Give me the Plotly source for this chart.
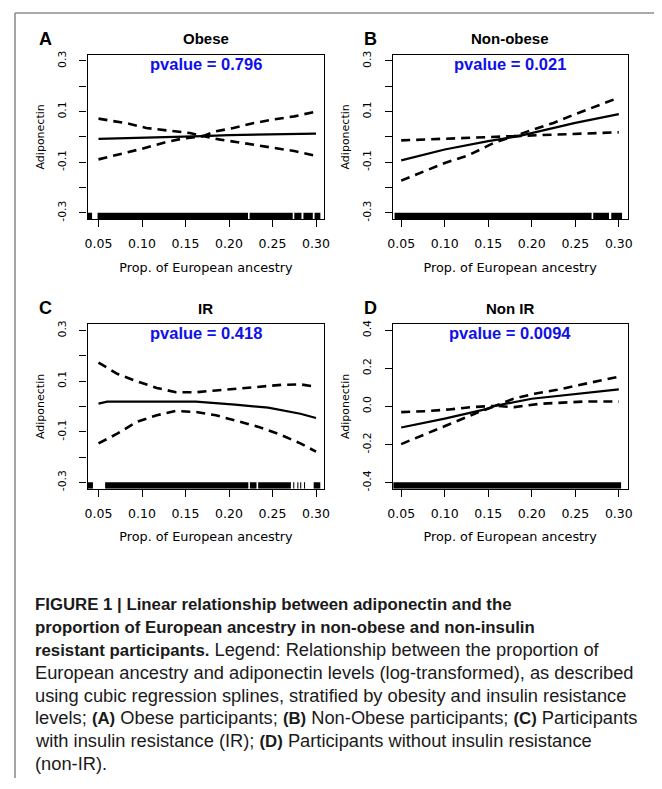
import plotly.graph_objects as go

# page body has an 8px default margin; size the figure so the page is exactly 662x789
OFF = 8
W, H = 662 - OFF, 789 - 2 * OFF

# ---------------- data ----------------
x_tick_vals = [0.05, 0.10, 0.15, 0.20, 0.25, 0.30]
x_tick_text = ["0.05", "0.10", "0.15", "0.20", "0.25", "0.30"]
y3_tick_vals = [-0.3, -0.2, -0.1, 0.0, 0.1, 0.2, 0.3]
y3_tick_text = ["-0.3", "", "-0.1", "", "0.1", "", "0.3"]
y4_tick_vals = [-0.4, -0.2, 0.0, 0.2, 0.4]
y4_tick_text = ["-0.4", "-0.2", "0.0", "0.2", "0.4"]

panel_letters = ["A", "B", "C", "D"]
panel_titles = ["Obese", "Non-obese", "IR", "Non IR"]
panel_pvalues = ["0.796", "0.021", "0.418", "0.0094"]

# A: Obese
a_fit_x = [0.05, 0.10, 0.15, 0.17, 0.20, 0.25, 0.30]
a_fit_y = [-0.008, -0.004, 0.0, 0.003, 0.007, 0.011, 0.013]
a_up_x = [0.05, 0.085, 0.105, 0.13, 0.155, 0.17, 0.185, 0.205, 0.225, 0.25, 0.275, 0.30]
a_up_y = [0.072, 0.052, 0.035, 0.025, 0.015, 0.003, 0.022, 0.035, 0.052, 0.068, 0.081, 0.10]
a_lo_x = [0.05, 0.075, 0.10, 0.125, 0.145, 0.17, 0.19, 0.21, 0.225, 0.25, 0.275, 0.30]
a_lo_y = [-0.089, -0.069, -0.047, -0.023, -0.008, 0.003, -0.011, -0.021, -0.030, -0.043, -0.056, -0.075]
a_rug_start = [0.037, 0.0489, 0.2237, 0.2750, 0.2855, 0.2983]
a_rug_end = [0.0426, 0.2218, 0.2732, 0.2833, 0.2963, 0.305]

# B: Non-obese
b_fit_x = [0.05, 0.10, 0.15, 0.185, 0.25, 0.30]
b_fit_y = [-0.093, -0.05, -0.017, 0.003, 0.055, 0.09]
b_up_x = [0.05, 0.078, 0.105, 0.131, 0.154, 0.18, 0.199, 0.225, 0.248, 0.271, 0.293, 0.30]
b_up_y = [-0.014, -0.010, -0.008, -0.004, -0.001, 0.003, 0.026, 0.055, 0.087, 0.117, 0.146, 0.155]
b_lo_x = [0.05, 0.078, 0.101, 0.127, 0.157, 0.18, 0.21, 0.237, 0.263, 0.288, 0.30]
b_lo_y = [-0.173, -0.134, -0.102, -0.073, -0.023, 0.003, 0.007, 0.012, 0.016, 0.018, 0.018]
b_rug_start = [0.0424, 0.2706, 0.2913]
b_rug_end = [0.2687, 0.2887, 0.3037]

# C: IR
c_fit_x = [0.05, 0.06, 0.10, 0.162, 0.207, 0.245, 0.282, 0.30]
c_fit_y = [0.011, 0.019, 0.019, 0.019, 0.007, -0.005, -0.029, -0.046]
c_up_x = [0.05, 0.072, 0.094, 0.117, 0.139, 0.162, 0.185, 0.207, 0.234, 0.26, 0.282, 0.30]
c_up_y = [0.173, 0.128, 0.099, 0.073, 0.056, 0.056, 0.063, 0.069, 0.076, 0.085, 0.087, 0.078]
c_lo_x = [0.05, 0.072, 0.094, 0.117, 0.139, 0.162, 0.185, 0.207, 0.234, 0.26, 0.282, 0.30]
c_lo_y = [-0.146, -0.107, -0.061, -0.035, -0.018, -0.022, -0.035, -0.055, -0.081, -0.113, -0.146, -0.179]
c_rug_start = [0.0379, 0.0576, 0.2240, 0.2335, 0.2738, 0.2785, 0.2818, 0.2862, 0.2973]
c_rug_end = [0.0436, 0.2222, 0.2316, 0.2711, 0.2750, 0.2797, 0.2830, 0.2874, 0.3049]

# D: Non IR
d_fit_x = [0.05, 0.10, 0.15, 0.158, 0.20, 0.25, 0.30]
d_fit_y = [-0.111, -0.064, -0.012, 0.003, 0.04, 0.066, 0.089]
d_up_x = [0.05, 0.079, 0.105, 0.131, 0.158, 0.179, 0.203, 0.229, 0.252, 0.276, 0.297, 0.30]
d_up_y = [-0.03, -0.025, -0.016, -0.004, 0.003, 0.04, 0.066, 0.087, 0.11, 0.132, 0.153, 0.156]
d_lo_x = [0.05, 0.075, 0.098, 0.12, 0.139, 0.158, 0.18, 0.21, 0.237, 0.263, 0.29, 0.30]
d_lo_y = [-0.198, -0.151, -0.108, -0.064, -0.03, 0.003, -0.004, 0.014, 0.022, 0.026, 0.026, 0.025]
d_rug_start = [0.041]
d_rug_end = [0.3026]

BOLD = '<span style="font-size:16.8px"><b>%s</b></span>'
caption_lines = [
    BOLD % "FIGURE 1 | Linear relationship between adiponectin and the",
    BOLD % "proportion of European ancestry in non-obese and non-insulin",
    BOLD % "resistant participants." + " Legend: Relationship between the proportion of",
    "European ancestry and adiponectin levels (log-transformed), as described",
    "using cubic regression splines, stratified by obesity and insulin resistance",
    "levels; " + BOLD % "(A)" + " Obese participants; " + BOLD % "(B)" + " Non-Obese participants; "
    + BOLD % "(C)" + " Participants",
    "with insulin resistance (IR); " + BOLD % "(D)" + " Participants without insulin resistance",
    "(non-IR).",
]

# ---------------- layout helpers ----------------
def px_x(p):
    return (p - OFF) / W

def px_y(p):
    return 1 - (p - OFF) / H

# pixel boxes in the 662x789 window (left, right, top, bottom)
boxes = [(83, 324, 51, 217), (394, 633, 51, 217), (83, 324, 323, 489), (394, 633, 323, 489)]
x_ranges = [[0.0375, 0.3094], [0.0405, 0.310], [0.0375, 0.3094], [0.0405, 0.310]]
y_ranges = [[-0.325, 0.325], [-0.325, 0.325], [-0.325, 0.325], [-0.432, 0.432]]
y_ticks = [(y3_tick_vals, y3_tick_text)] * 3 + [(y4_tick_vals, y4_tick_text)]
rug_tops = [-0.3, -0.3, -0.3, -0.4]

panels = [
    (a_fit_x, a_fit_y, a_up_x, a_up_y, a_lo_x, a_lo_y, a_rug_start, a_rug_end),
    (b_fit_x, b_fit_y, b_up_x, b_up_y, b_lo_x, b_lo_y, b_rug_start, b_rug_end),
    (c_fit_x, c_fit_y, c_up_x, c_up_y, c_lo_x, c_lo_y, c_rug_start, c_rug_end),
    (d_fit_x, d_fit_y, d_up_x, d_up_y, d_lo_x, d_lo_y, d_rug_start, d_rug_end),
]

fig = go.Figure()
layout_axes = {}
annotations = []
xtick_font = dict(family="DejaVu Sans", size=12.5, color="black")
ytick_font = dict(family="DejaVu Sans", size=10.8, color="black")
xlab_font = dict(family="DejaVu Sans", size=12.8, color="black")
ylab_font = dict(family="DejaVu Sans", size=11, color="black")
dash_style = dict(color="black", width=2.6, dash="9px,6px")

for i, (fx, fy, ux, uy, lx, ly, rs, re_) in enumerate(panels):
    n = i + 1
    xa = "x" if n == 1 else f"x{n}"
    ya = "y" if n == 1 else f"y{n}"
    L, R, T, B = boxes[i]
    rug_y = (y_ranges[i][0] + rug_tops[i]) / 2
    rx, ry = [], []
    for s, e in zip(rs, re_):
        rx += [s, e, None]
        ry += [rug_y, rug_y, None]
    fig.add_trace(go.Scatter(x=rx, y=ry, mode="lines", xaxis=xa, yaxis=ya,
                             line=dict(color="black", width=6.5), showlegend=False,
                             hoverinfo="skip"))
    fig.add_trace(go.Scatter(x=ux, y=uy, mode="lines", xaxis=xa, yaxis=ya,
                             line=dash_style, showlegend=False))
    fig.add_trace(go.Scatter(x=lx, y=ly, mode="lines", xaxis=xa, yaxis=ya,
                             line=dash_style, showlegend=False))
    fig.add_trace(go.Scatter(x=fx, y=fy, mode="lines", xaxis=xa, yaxis=ya,
                             line=dict(color="black", width=2.2), showlegend=False))

    axis_common = dict(showline=True, linecolor="black", linewidth=1.4, mirror=True,
                       ticks="outside", ticklen=7, tickwidth=1.2, tickcolor="black",
                       showgrid=False, zeroline=False)
    layout_axes["xaxis" if n == 1 else f"xaxis{n}"] = dict(
        axis_common, domain=[px_x(L), px_x(R)], range=x_ranges[i], anchor=ya,
        tickvals=x_tick_vals, ticktext=x_tick_text, ticklabelstandoff=6, tickfont=xtick_font,
        title=dict(text="Prop. of European ancestry", font=xlab_font, standoff=12))
    layout_axes["yaxis" if n == 1 else f"yaxis{n}"] = dict(
        axis_common, domain=[px_y(B), px_y(T)], range=y_ranges[i], anchor=xa,
        tickvals=y_ticks[i][0], ticktext=y_ticks[i][1], tickangle=-90, ticklabelstandoff=9,
        tickfont=ytick_font,
        title=dict(text="Adiponectin", font=ylab_font, standoff=9))

    cx = (L + R) / 2
    title_y = T - 16
    annotations.append(dict(text=f"<b>{panel_titles[i]}</b>", x=px_x(cx), y=px_y(title_y),
                            xref="paper", yref="paper", xanchor="center", yanchor="middle",
                            showarrow=False,
                            font=dict(family="Liberation Sans", size=15, color="black")))
    annotations.append(dict(text=f"<b>pvalue = {panel_pvalues[i]}</b>", x=px_x(cx),
                            y=px_y(T + 9), xref="paper", yref="paper", xanchor="center",
                            yanchor="middle", showarrow=False,
                            font=dict(family="Liberation Sans", size=16.5, color="#1010e8")))
    annotations.append(dict(text=f"<b>{panel_letters[i]}</b>", x=px_x(40 if i % 2 == 0 else 371),
                            y=px_y(title_y), xref="paper", yref="paper", xanchor="center",
                            yanchor="middle", showarrow=False,
                            font=dict(family="Liberation Sans", size=18, color="black")))

cap_top = 606
for k, line in enumerate(caption_lines):
    annotations.append(dict(text=line, x=px_x(27), y=px_y(cap_top + 22.85 * k), xref="paper",
                            yref="paper", xanchor="left", yanchor="middle", showarrow=False,
                            font=dict(family="Liberation Sans", size=18.3, color="#1a1a1a")))

shapes = [
    dict(type="line", xref="paper", yref="paper", x0=px_x(9), x1=1, y0=px_y(9), y1=px_y(9),
         line=dict(color="#8c8c8c", width=1.6)),
    dict(type="line", xref="paper", yref="paper", x0=px_x(9), x1=px_x(9), y0=px_y(9), y1=0,
         line=dict(color="#8c8c8c", width=1.6)),
]

fig.update_layout(width=W, height=H, margin=dict(l=0, r=0, t=0, b=0),
                  paper_bgcolor="white", plot_bgcolor="white",
                  annotations=annotations, shapes=shapes, **layout_axes)

fig.write_html("out.html")
